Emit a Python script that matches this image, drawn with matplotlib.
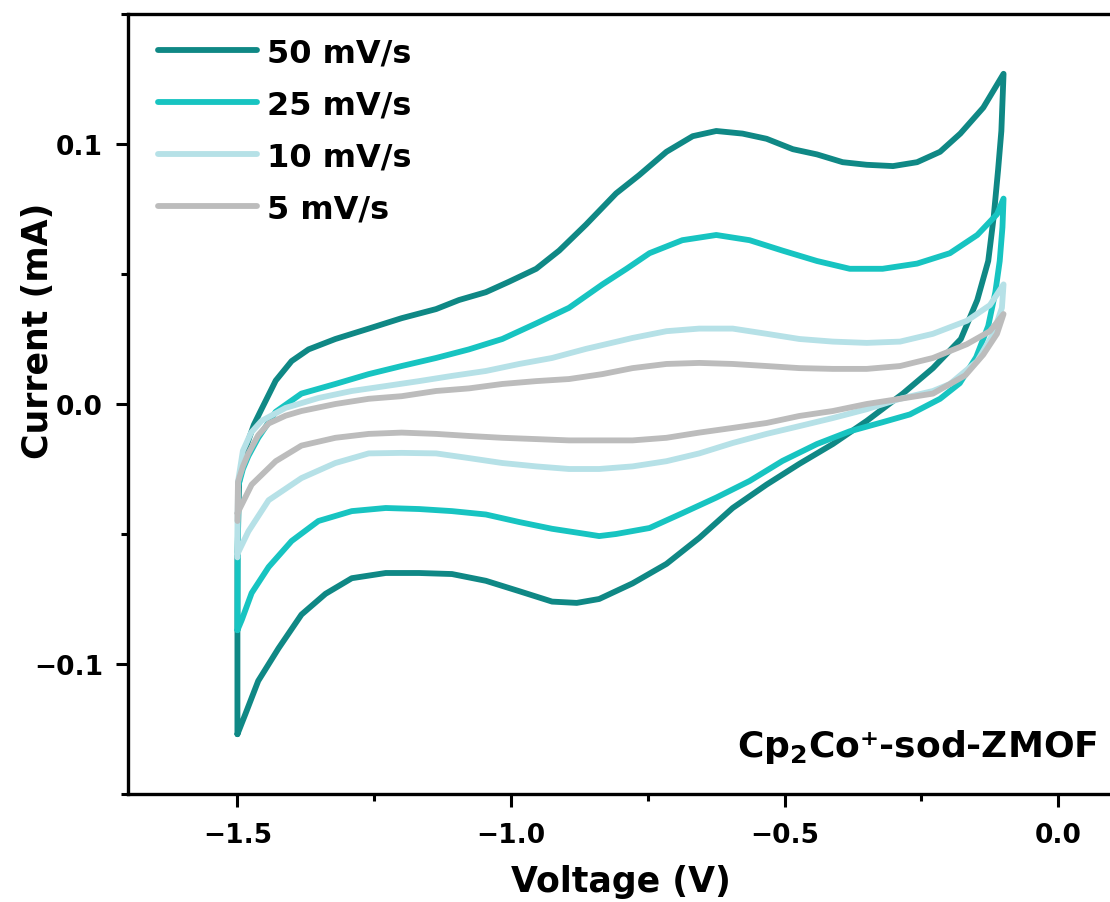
import matplotlib
matplotlib.use("Agg")
import matplotlib.pyplot as plt
import matplotlib.ticker as mticker

plt.rcParams["font.family"] = ["DejaVu Sans"]
plt.rcParams["font.weight"] = "bold"
plt.rcParams["mathtext.default"] = "bf"

# CV loops: forward sweep from -1.5 V to -0.1 V, then reverse back to -1.5 V
v50 = [-1.500, -1.500, -1.497, -1.485, -1.470, -1.456, -1.430, -1.401, -1.370, -1.321,
       -1.260, -1.200, -1.137, -1.095, -1.046, -1.004, -0.954, -0.912, -0.863, -0.808,
       -0.766, -0.716, -0.668, -0.625, -0.577, -0.533, -0.485, -0.441, -0.394, -0.350,
       -0.302, -0.258, -0.216, -0.179, -0.137, -0.100,
       -0.104, -0.110, -0.118, -0.128, -0.148, -0.178, -0.229, -0.284, -0.350, -0.412,
       -0.473, -0.533, -0.595, -0.656, -0.716, -0.778, -0.839, -0.880, -0.925, -0.985,
       -1.046, -1.108, -1.168, -1.229, -1.291, -1.339, -1.383, -1.425, -1.462, -1.485, -1.500]
i50 = [-0.127, -0.060, -0.030, -0.017, -0.008, -0.002, 0.009, 0.0165, 0.021, 0.025,
       0.029, 0.033, 0.0365, 0.040, 0.043, 0.047, 0.052, 0.059, 0.069, 0.081,
       0.088, 0.097, 0.103, 0.105, 0.104, 0.102, 0.098, 0.096, 0.093, 0.092,
       0.0915, 0.093, 0.097, 0.104, 0.114, 0.127,
       0.105, 0.090, 0.072, 0.055, 0.040, 0.025, 0.0138, 0.004, -0.0065, -0.0154,
       -0.023, -0.031, -0.040, -0.0515, -0.0615, -0.069, -0.075, -0.0765, -0.076, -0.072,
       -0.068, -0.0654, -0.065, -0.065, -0.067, -0.073, -0.081, -0.094, -0.1065, -0.119, -0.127]

v25 = [-1.500, -1.499, -1.490, -1.480, -1.462, -1.430, -1.383, -1.321, -1.260, -1.200,
       -1.137, -1.077, -1.016, -0.954, -0.894, -0.833, -0.789, -0.747, -0.687, -0.625,
       -0.564, -0.504, -0.441, -0.381, -0.321, -0.258, -0.198, -0.148, -0.112, -0.100,
       -0.102, -0.107, -0.115, -0.128, -0.150, -0.180, -0.216, -0.271, -0.321, -0.381,
       -0.441, -0.504, -0.564, -0.625, -0.687, -0.747, -0.808, -0.839, -0.863, -0.925,
       -0.985, -1.046, -1.108, -1.168, -1.229, -1.291, -1.352, -1.401, -1.443, -1.474,
       -1.492, -1.500]
i25 = [-0.087, -0.032, -0.025, -0.020, -0.013, -0.003, 0.004, 0.0077, 0.0115, 0.0146,
       0.0177, 0.021, 0.025, 0.031, 0.037, 0.046, 0.052, 0.058, 0.063, 0.065,
       0.063, 0.059, 0.055, 0.052, 0.052, 0.054, 0.058, 0.065, 0.073, 0.079,
       0.068, 0.055, 0.043, 0.030, 0.018, 0.008, 0.002, -0.004, -0.007, -0.0105,
       -0.0154, -0.0219, -0.0296, -0.036, -0.042, -0.0477, -0.050, -0.0508, -0.050, -0.048,
       -0.0454, -0.0425, -0.0412, -0.0404, -0.040, -0.0412, -0.045, -0.0527, -0.0627, -0.0727,
       -0.083, -0.087]

v10 = [-1.500, -1.499, -1.490, -1.475, -1.456, -1.412, -1.352, -1.291, -1.229, -1.168,
       -1.108, -1.046, -0.985, -0.925, -0.863, -0.802, -0.778, -0.716, -0.656, -0.595,
       -0.533, -0.473, -0.412, -0.350, -0.289, -0.229, -0.167, -0.125, -0.100,
       -0.103, -0.119, -0.148, -0.198, -0.229, -0.289, -0.350, -0.412, -0.473, -0.533,
       -0.595, -0.656, -0.716, -0.778, -0.839, -0.894, -0.954, -1.016, -1.077, -1.137,
       -1.200, -1.260, -1.321, -1.383, -1.443, -1.480, -1.500]
i10 = [-0.059, -0.030, -0.018, -0.011, -0.0065, -0.0015, 0.0023, 0.005, 0.0069, 0.0088,
       0.0108, 0.0127, 0.0154, 0.0177, 0.0212, 0.0242, 0.0254, 0.028, 0.029, 0.029,
       0.027, 0.025, 0.024, 0.0235, 0.024, 0.027, 0.032, 0.038, 0.046,
       0.037, 0.027, 0.0165, 0.0077, 0.005, 0.002, -0.002, -0.0054, -0.0085, -0.0115,
       -0.015, -0.019, -0.022, -0.024, -0.025, -0.025, -0.024, -0.0227, -0.0208, -0.019,
       -0.0188, -0.019, -0.0227, -0.0285, -0.037, -0.049, -0.0577]

v5 = [-1.500, -1.499, -1.490, -1.480, -1.462, -1.443, -1.412, -1.383, -1.321, -1.260,
      -1.200, -1.137, -1.077, -1.016, -0.954, -0.894, -0.833, -0.778, -0.716, -0.656,
      -0.595, -0.533, -0.473, -0.412, -0.350, -0.289, -0.229, -0.167, -0.125, -0.100,
      -0.112, -0.137, -0.170, -0.229, -0.289, -0.350, -0.412, -0.473, -0.533, -0.595,
      -0.656, -0.716, -0.778, -0.839, -0.894, -0.954, -1.016, -1.077, -1.137, -1.200,
      -1.260, -1.321, -1.383, -1.430, -1.474, -1.500]
i5 = [-0.045, -0.030, -0.024, -0.019, -0.012, -0.0075, -0.0045, -0.0027, 0.0, 0.002,
      0.003, 0.005, 0.006, 0.0077, 0.0088, 0.0096, 0.0115, 0.0138, 0.0154, 0.0158,
      0.0154, 0.0146, 0.0138, 0.0135, 0.0135, 0.0146, 0.0177, 0.023, 0.028, 0.0346,
      0.027, 0.019, 0.011, 0.004, 0.002, 0.0, -0.0027, -0.0046, -0.0073, -0.0092,
      -0.011, -0.013, -0.014, -0.014, -0.014, -0.0135, -0.013, -0.0123, -0.0115, -0.011,
      -0.0115, -0.013, -0.016, -0.022, -0.031, -0.042]

labels = ["50 mV/s", "25 mV/s", "10 mV/s", "5 mV/s"]
colors = ["#0f8885", "#17c4c1", "#b6e1e7", "#bcbcbc"]


def _minus(val, _pos):
    return f"{val:.1f}".replace("-", "\u2212")


fig = plt.figure(figsize=(11.1, 9.03), dpi=100)
ax = fig.add_axes([0.1153, 0.1196, 0.8874, 0.8638])

for v, i, lab, c in zip([v50, v25, v10, v5], [i50, i25, i10, i5], labels, colors):
    ax.plot(v, i, color=c, lw=4.2, label=lab, solid_capstyle="round", solid_joinstyle="round")

ax.set_xlim(-1.7, 0.1)
ax.set_ylim(-0.15, 0.15)
ax.xaxis.set_major_locator(mticker.MultipleLocator(0.5))
ax.xaxis.set_minor_locator(mticker.MultipleLocator(0.25))
ax.yaxis.set_major_locator(mticker.MultipleLocator(0.1))
ax.yaxis.set_minor_locator(mticker.MultipleLocator(0.05))
ax.xaxis.set_major_formatter(mticker.FuncFormatter(_minus))
ax.yaxis.set_major_formatter(mticker.FuncFormatter(_minus))

ax.tick_params(which="major", direction="out", length=9, width=2.2, labelsize=19)
ax.tick_params(axis="x", which="major", pad=11)
ax.tick_params(axis="y", which="major", pad=9)
ax.tick_params(which="minor", direction="out", length=5, width=2.2)
ax.tick_params(top=False, right=False, which="both")
for side in ("left", "bottom", "top"):
    ax.spines[side].set_linewidth(2.4)
# right spine falls just outside the cropped figure in the original
ax.spines["right"].set_visible(False)

ax.set_xlabel("Voltage (V)", fontsize=25, fontweight="bold", labelpad=12)
ax.set_ylabel("Current (mA)", fontsize=25, fontweight="bold")
ax.yaxis.set_label_coords(-0.074, 0.595)

ax.legend(loc="upper left", bbox_to_anchor=(0.0305, 0.9705), frameon=False,
          fontsize=23, handlelength=3.1, handletextpad=0.3, labelspacing=0.66,
          borderpad=0, borderaxespad=0)

ax.text(0.984, 0.049, "Cp$_2$Co\u207a-sod-ZMOF", transform=ax.transAxes,
        ha="right", va="baseline", fontsize=26, fontweight="bold")

fig.savefig("out.png", dpi=100)
